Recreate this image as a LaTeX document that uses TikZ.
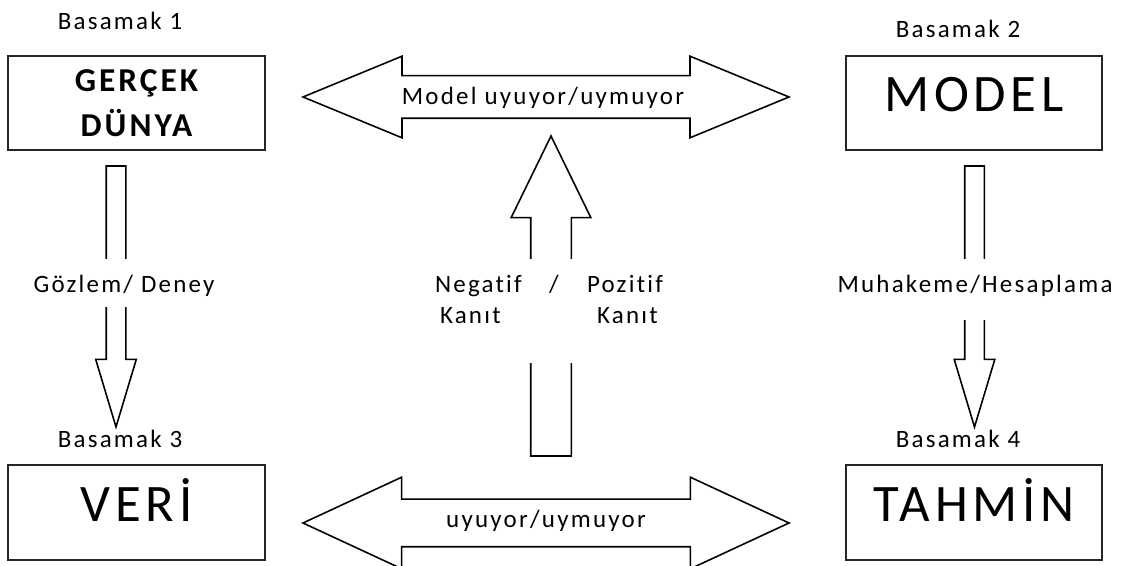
\documentclass[tikz,border=0pt]{standalone}
\usepackage{fontspec}
\setmainfont{Carlito}[LetterSpace=9,Ligatures=NoCommon]
\usetikzlibrary{shapes.arrows}

\begin{document}
\begin{tikzpicture}[inner sep=0pt,outer sep=0pt,
stagebox/.style={draw=black!85,line width=1.1pt,rectangle,minimum width=5.13cm,minimum height=1.89cm},
bigcap/.style={stagebox,font=\fontsize{30}{36}\selectfont,text height=0.64cm,text depth=0.28cm},
lbl/.style={font=\fontsize{14.2}{17}\selectfont},
hfat/.style={draw,line width=0.9pt,double arrow,inner xsep=0pt,minimum height=9.72cm},
vfat/.style={draw,line width=0.9pt,single arrow,inner xsep=0pt,anchor=tail},
gap/.style={fill=white,minimum width=1.2cm}]

\useasboundingbox (0,0) rectangle (22.62,11.32);

% the four stages
\draw (2.73,9.26) node[stagebox,font=\bfseries\fontsize{19}{25.6}\selectfont,align=center] (real) {GERÇEK\\DÜNYA};
\draw (19.48,9.26) node[bigcap] (model) {MODEL};
\draw (2.73,1.07) node[bigcap] (data) {VERİ};
\draw (19.48,1.07) node[bigcap] (guess) {TAHMİN};

\draw (real.north) ++(-0.33,0.52) node[lbl,anchor=base] (s1) {Basamak 1};
\draw (model.north) ++(-0.32,0.36) node[lbl,anchor=base] (s2) {Basamak 2};
\draw (data.north) ++(-0.33,0.36) node[lbl,anchor=base] (s3) {Basamak 3};
\draw (guess.north) ++(-0.32,0.36) node[lbl,anchor=base] (s4) {Basamak 4};

% horizontal block arrows
\draw (10.92,9.38) node[hfat,inner ysep=0.41cm,minimum width=1.6cm,double arrow head extend=0.39cm,double arrow tip angle=44.8] (fit) {};
\draw (10.86,9.22) node[lbl,anchor=base] (fittxt) {Model uyuyor/uymuyor};
\draw (10.92,0.86) node[hfat,inner ysep=0.46cm,minimum width=1.8cm,double arrow head extend=0.44cm,double arrow tip angle=49.8] (datafit) {};
\draw (10.92,0.76) node[lbl,anchor=base] (datafittxt) {uyuyor/uymuyor};

% vertical block arrows
\draw (2.32,8.00) node[vfat,rotate=-90,minimum height=5.22cm,inner ysep=0.18cm,minimum width=0.78cm,single arrow head extend=0.21cm,single arrow tip angle=33.4] (obs) {};
\draw (2.32,5.66) node[gap,minimum height=0.96cm] (obsgap) {};
\draw (2.48,5.46) node[lbl,anchor=base] (obstxt) {Gözlem/ Deney};

\draw (19.49,8.00) node[vfat,rotate=-90,minimum height=5.22cm,inner ysep=0.18cm,minimum width=0.78cm,single arrow head extend=0.21cm,single arrow tip angle=33.4] (calc) {};
\draw (19.49,5.53) node[gap,minimum height=1.22cm] (calcgap) {};
\draw (19.50,5.46) node[lbl,anchor=base] (calctxt) {Muhakeme/Hesaplama};

\draw (11.02,2.20) node[vfat,rotate=90,minimum height=6.4cm,inner ysep=0.39cm,minimum width=1.56cm,single arrow head extend=0.39cm,single arrow tip angle=52] (evid) {};
\draw (11.02,5.10) node[gap,minimum height=2.08cm] (evidgap) {};
\draw (8.70,5.46) node[lbl,anchor=base west] (neg) {Negatif};
\draw (8.80,4.84) node[lbl,anchor=base west] (negk) {Kanıt};
\draw (11.08,5.46) node[lbl,anchor=base] (slash) {/};
\draw (11.74,5.46) node[lbl,anchor=base west] (pos) {Pozitif};
\draw (11.94,4.84) node[lbl,anchor=base west] (posk) {Kanıt};

\end{tikzpicture}
\end{document}
